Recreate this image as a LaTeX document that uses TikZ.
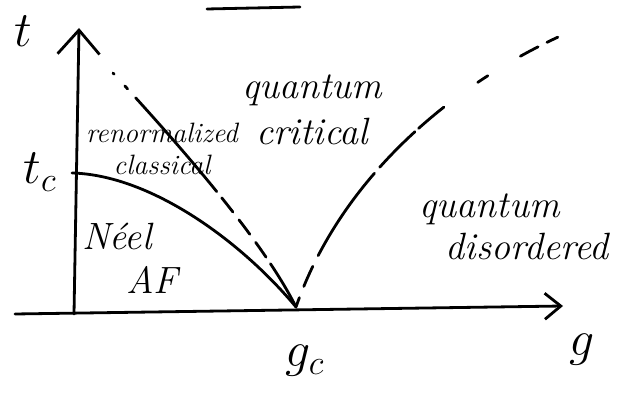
\documentclass[tikz,border=0pt]{standalone}
\usepackage{amsmath}
\usetikzlibrary{arrows.meta}
\tikzset{
  pen/.style={line width=1.4pt, line cap=round, line join=round},
  taxis/.style={pen, -{Straight Barb[length=12pt,width=21pt]}},
  gaxis/.style={pen, -{Straight Barb[length=8pt,width=13pt]}},
  border/.style={pen},
  crossleft/.style={pen, dash pattern=on 0.8pt off 8pt on 2pt off 6pt on 62pt off 4pt
    on 9pt off 5pt on 9pt off 5pt on 9pt off 4pt on 30pt},
  crossright/.style={pen, dash pattern=on 5pt off 6pt on 11pt off 6pt on 50pt off 4pt
    on 25pt off 2.5pt on 16.5pt off 21pt on 6pt off 19pt on 10pt},
  phase/.style={font=\fontsize{19}{21}\selectfont\itshape, inner sep=0pt},
  smallphase/.style={font=\fontsize{14}{15}\selectfont\itshape, inner sep=0pt},
  sym/.style={font=\fontsize{24}{26}\selectfont, inner sep=0pt}
}

\begin{document}
\begin{tikzpicture}[x=0.5pt,y=-0.5pt]
  \useasboundingbox (0,0) rectangle (637,394);

  % axes
  \coordinate (gstart) at (15,314);
  \coordinate (gend) at (563,306);
  \coordinate (tstart) at (74,314);
  \coordinate (tend) at (79,28);
  \coordinate (tc) at (72,173);
  \coordinate (gc) at (296,307);
  \coordinate (qcleft) at (113,73);
  \coordinate (qcright) at (567,33);
  \coordinate (barl) at (207,9);
  \coordinate (barr) at (300,7);

  \draw[pen] (barl) -- (barr);
  \draw[gaxis] (gstart) -- (gend);
  \draw[taxis] (tstart) -- (tend);

  \node[sym] (tlab) at (23,31) {$t$};
  \node[sym] (glab) at (582,350) {$g$};
  \node[sym] (tclab) at (40,172) {$t_c$};
  \node[sym] (gclab) at (305,361) {$g_c$};

  % phase boundary and crossovers
  \draw[border] (tc) .. controls (150,175) and (240,240) .. (gc);
  \draw[crossleft] (qcleft) .. controls (170,135) and (260,235) .. (gc);
  \draw[crossright] (gc) .. controls (340,180) and (450,85) .. (qcright);

  % regions
  \node[phase, align=center] (qc) at (312,110) {quantum\\[2pt]critical};
  \node[smallphase, align=center] (rc) at (162,149) {renormalized\\[1pt]classical};
  \node[phase, align=left] (neel) at (130,258) {N\'eel\\[1pt]\hspace{22pt}AF};
  \node[phase, align=left] (qd) at (514,227) {quantum\\[0pt]\hspace{13pt}disordered};
\end{tikzpicture}
\end{document}
